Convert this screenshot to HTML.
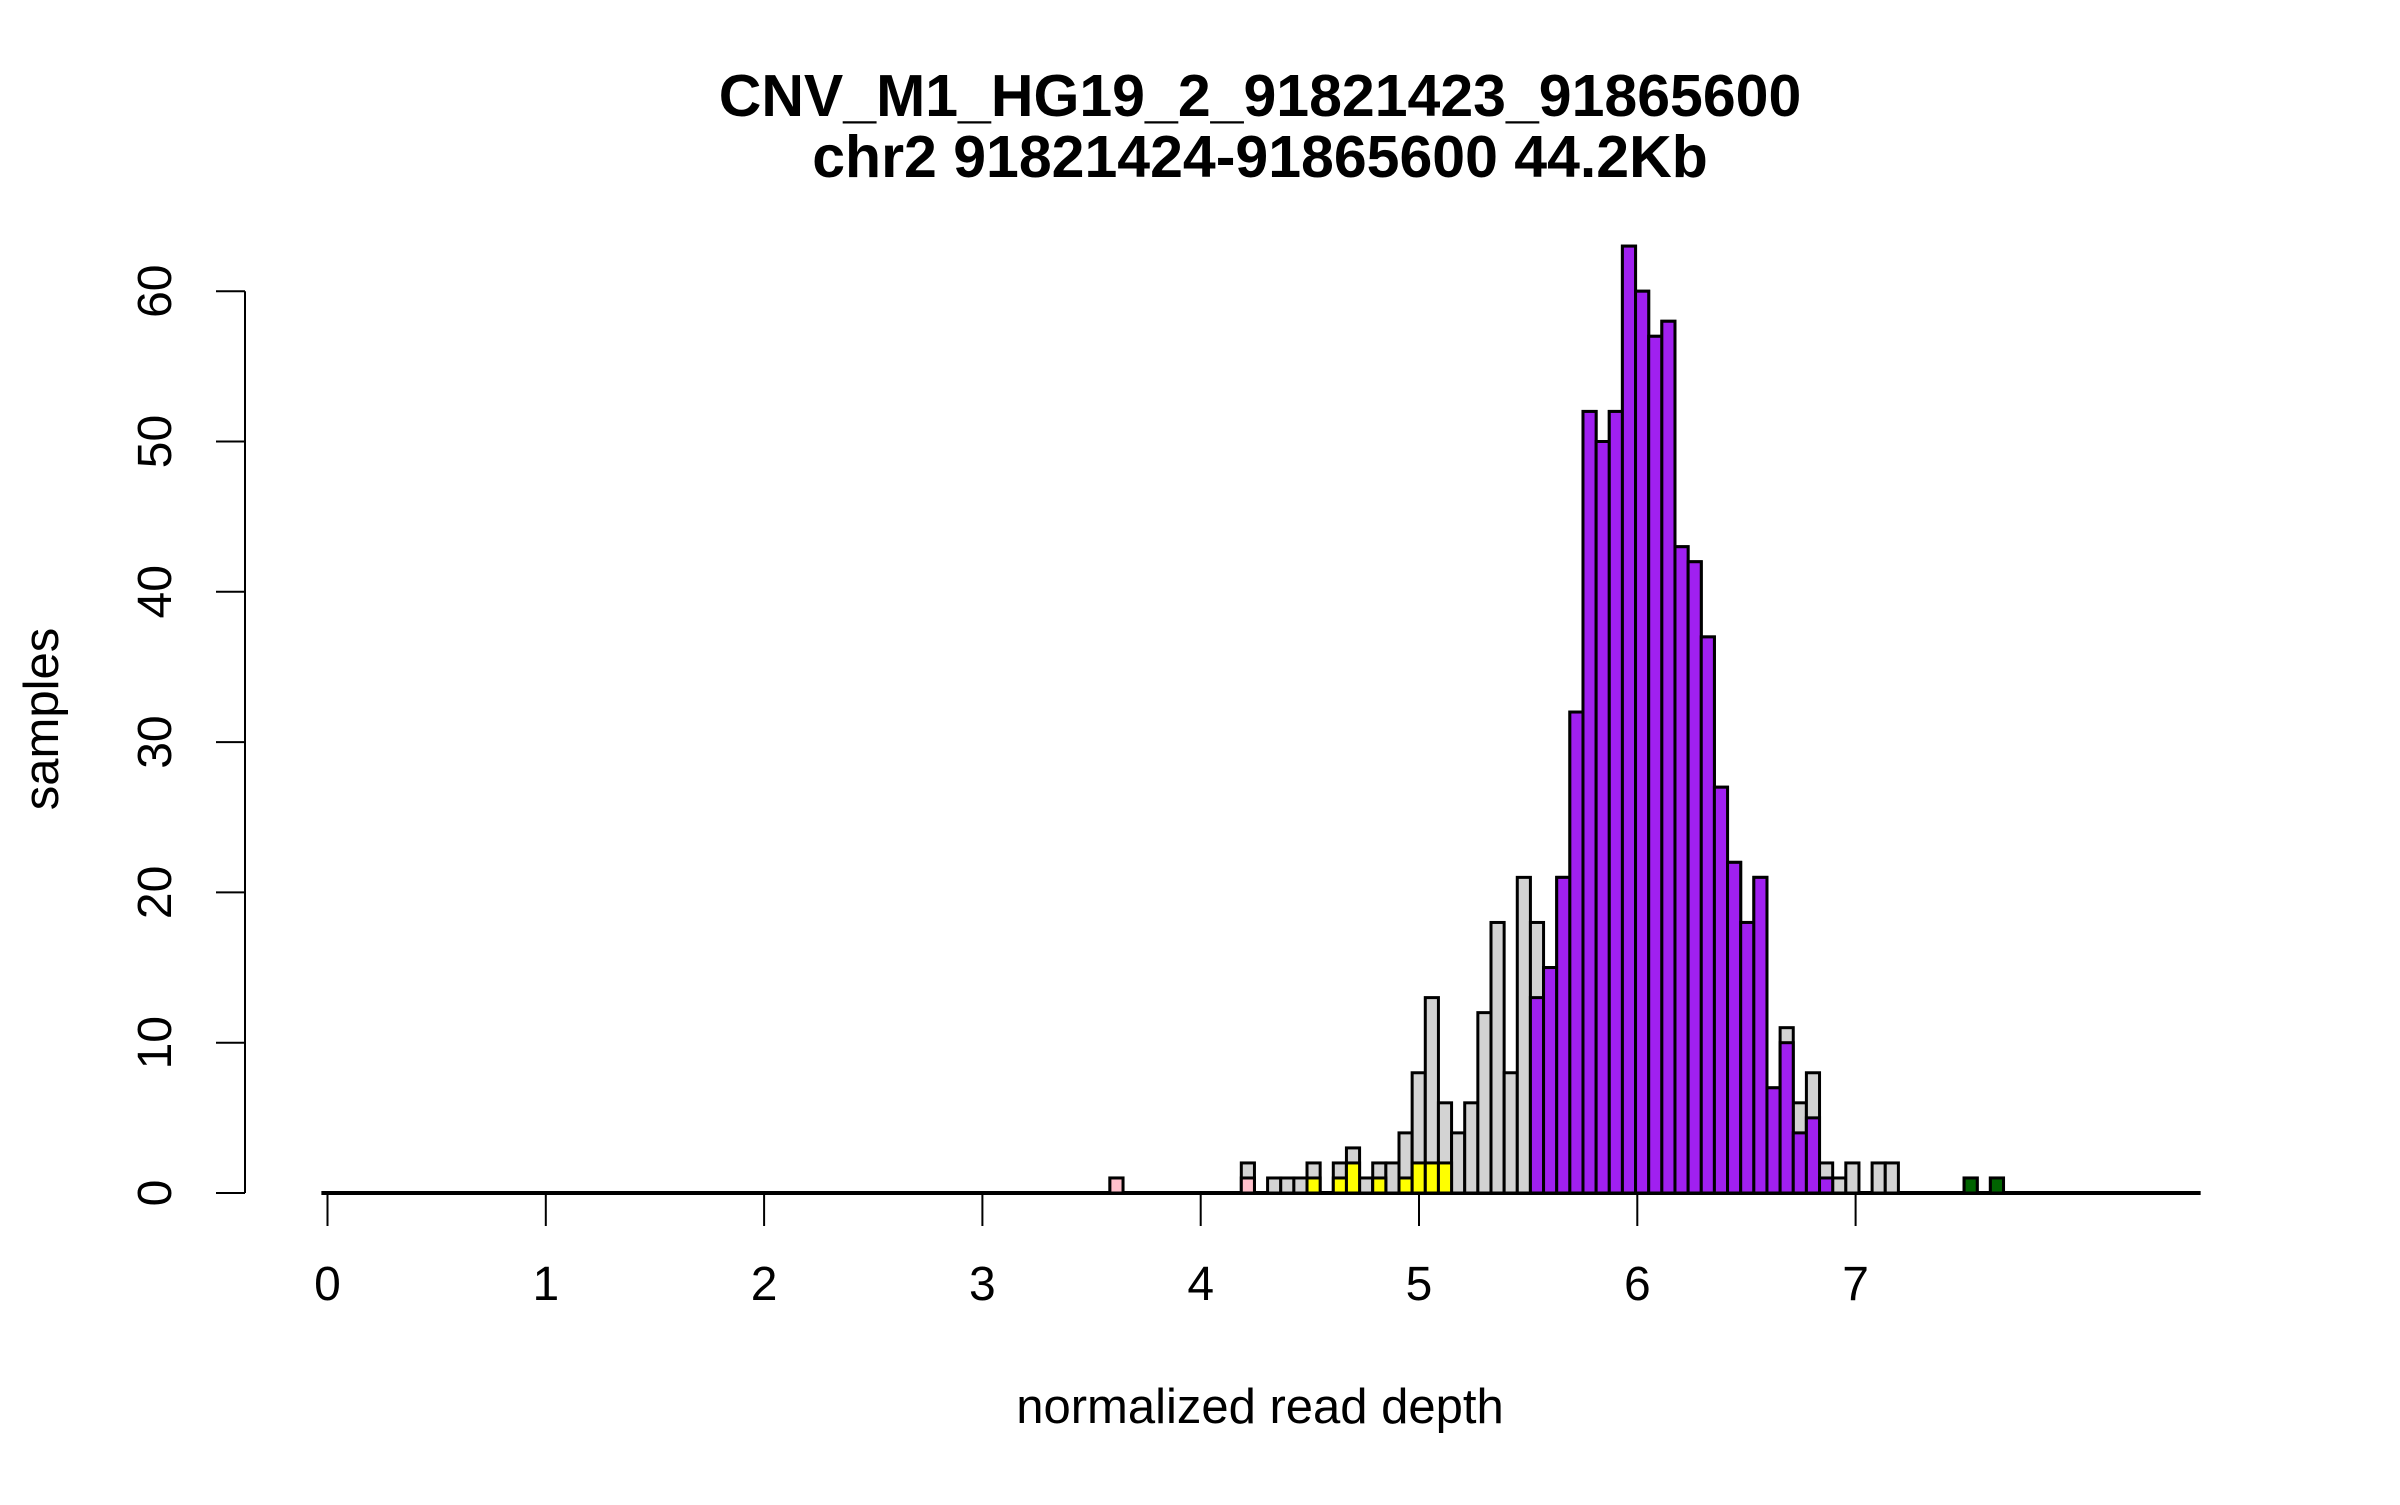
<!DOCTYPE html>
<html><head><meta charset="utf-8"><style>
html,body{margin:0;padding:0;background:#fff;}
svg text{font-family:"Liberation Sans",sans-serif;}
</style></head><body>
<svg id="chart" width="2400" height="1500" viewBox="0 0 2400 1500" xmlns="http://www.w3.org/2000/svg">
<text x="1260" y="116" text-anchor="middle" font-size="59" font-weight="bold">CNV_M1_HG19_2_91821423_91865600</text>
<text x="1260" y="177" text-anchor="middle" font-size="59" font-weight="bold">chr2 91821424-91865600 44.2Kb</text>
<text x="1260" y="1423" text-anchor="middle" font-size="49">normalized read depth</text>
<text x="0" y="0" transform="translate(58,719) rotate(-90)" text-anchor="middle" font-size="49">samples</text>
<g id="bars"></g>
<g id="axes"></g>
</svg>
<script>
// Histogram data: bin index -> counts
const binStartValue = -0.028;
const binWidth = 0.0602;
const totalBins = 143;
const grayBins = [60,70,72,73,74,75,77,78,79,80,81,82,83,84,85,86,87,88,89,90,91,92,93,94,95,96,97,98,99,100,101,102,103,104,105,106,107,108,109,110,111,112,113,114,115,116,118,119,125,127];
const grayCounts = [1,2,1,1,1,2,2,3,1,2,2,4,8,13,6,4,6,12,18,8,21,18,15,21,32,52,50,52,63,60,57,58,43,42,37,27,22,18,21,7,11,6,8,2,1,2,2,2,1,1];
const purpleBins = [92,93,94,95,96,97,98,99,100,101,102,103,104,105,106,107,108,109,110,111,112,113,114];
const purpleCounts = [13,15,21,32,52,50,52,63,60,57,58,43,42,37,27,22,18,21,7,10,4,5,1];
const yellowBins = [75,77,78,80,82,83,84,85];
const yellowCounts = [1,1,2,1,1,2,2,2];
const pinkBins = [60,70];
const pinkCounts = [1,1];
const greenBins = [125,127];
const greenCounts = [1,1];
const xTicks = [0,1,2,3,4,5,6,7];
const yTicks = [0,10,20,30,40,50,60];

const X0 = 327.5, XU = 218.3, Y0 = 1193, YU = 15.03;
const xs = v => X0 + v * XU;
const ys = v => Y0 - v * YU;
const NS = "http://www.w3.org/2000/svg";
const barsG = document.getElementById('bars');
const axesG = document.getElementById('axes');

function rect(idx, count, fill, name) {
  const x1 = xs(binStartValue + idx * binWidth), x2 = xs(binStartValue + (idx + 1) * binWidth);
  const r = document.createElementNS(NS, 'rect');
  r.setAttribute('x', x1); r.setAttribute('width', x2 - x1);
  r.setAttribute('y', ys(count)); r.setAttribute('height', Y0 - ys(count));
  r.setAttribute('fill', fill); r.setAttribute('stroke', '#000'); r.setAttribute('stroke-width', '3');
  
  
  barsG.appendChild(r);
}
const base = document.createElementNS(NS, 'line');
base.setAttribute('x1', xs(binStartValue)); base.setAttribute('x2', xs(binStartValue + totalBins * binWidth));
base.setAttribute('y1', Y0); base.setAttribute('y2', Y0);
base.setAttribute('stroke', '#000'); base.setAttribute('stroke-width', '4');


barsG.appendChild(base);
grayBins.forEach((b, i) => rect(b, grayCounts[i], '#d3d3d3', 'bar-all'));
purpleBins.forEach((b, i) => rect(b, purpleCounts[i], '#a020f0', 'bar-purple'));
yellowBins.forEach((b, i) => rect(b, yellowCounts[i], '#ffff00', 'bar-yellow'));
pinkBins.forEach((b, i) => rect(b, pinkCounts[i], '#ffc0cb', 'bar-pink'));
greenBins.forEach((b, i) => rect(b, greenCounts[i], '#006400', 'bar-green'));

function line(x1, y1, x2, y2, name) {
  const l = document.createElementNS(NS, 'line');
  l.setAttribute('x1', x1); l.setAttribute('y1', y1); l.setAttribute('x2', x2); l.setAttribute('y2', y2);
  l.setAttribute('stroke', '#000'); l.setAttribute('stroke-width', '2');
  
  
  axesG.appendChild(l);
}
function text(x, y, s, name, rot) {
  const t = document.createElementNS(NS, 'text');
  t.setAttribute('font-size', '48'); t.setAttribute('text-anchor', 'middle');
  if (rot) { t.setAttribute('transform', `translate(${x},${y}) rotate(-90)`); t.setAttribute('x', 0); t.setAttribute('y', 17); }
  else { t.setAttribute('x', x); t.setAttribute('y', y); }
  t.textContent = s;
  
  
  axesG.appendChild(t);
}
xTicks.forEach(v => { line(xs(v), Y0, xs(v), 1226, 'x-tick'); text(xs(v), 1300, String(v), 'x-tick-label'); });
line(245, ys(0), 245, ys(60), 'y-axis-line');
yTicks.forEach(v => { line(216, ys(v), 245, ys(v), 'y-tick'); text(154, ys(v), String(v), 'y-tick-label', true); });
</script>
</body></html>
